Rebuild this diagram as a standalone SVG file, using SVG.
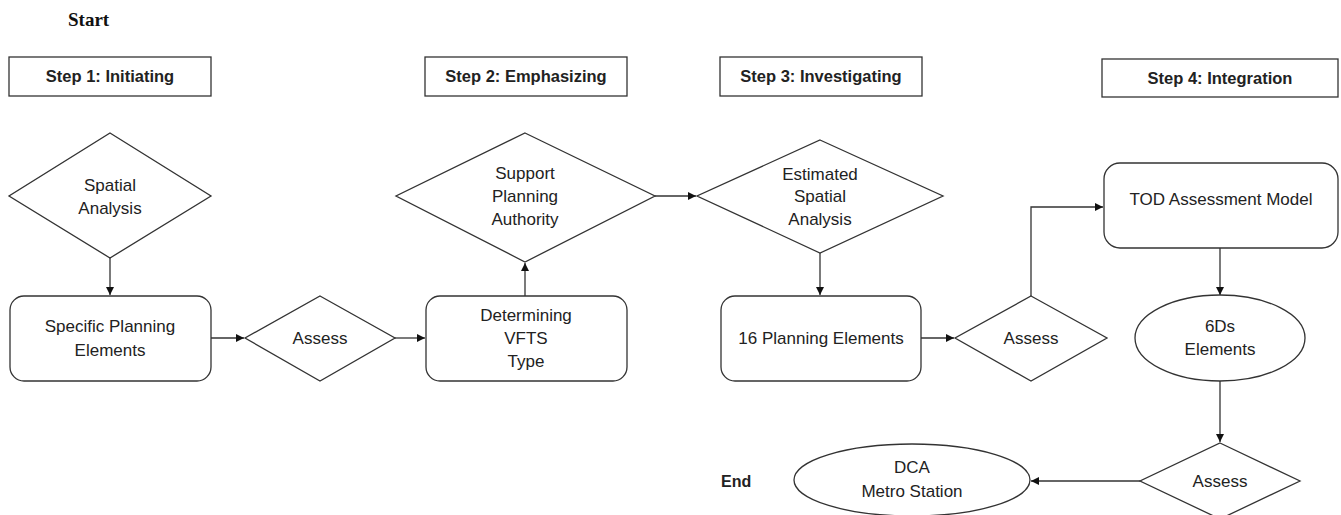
<svg xmlns="http://www.w3.org/2000/svg" width="1341" height="515" viewBox="0 0 1341 515">
<style>
.sh{fill:#fff;stroke:#333;stroke-width:1.3}
.t{font-family:"Liberation Sans",Arial,sans-serif;font-size:17px;fill:#222;text-anchor:middle}
.b{font-weight:bold;font-size:16.5px}
.c{fill:none;stroke:#333;stroke-width:1.3}
</style>
<defs>
<marker id="ah" viewBox="0 0 10 10" refX="10" refY="5" markerWidth="8" markerHeight="8" markerUnits="userSpaceOnUse" orient="auto">
<path d="M0,0 L10,5 L0,10 z" fill="#111"/>
</marker>
</defs>
<rect width="1341" height="515" fill="#fff"/>
<text x="68" y="26" style="font-family:'Liberation Serif',serif;font-weight:bold;font-size:19px;fill:#111">Start</text>
<text x="721" y="487" class="t b" style="text-anchor:start;font-size:16px">End</text>

<g id="step1"><rect class="sh" x="9" y="57" width="202" height="39"/><text class="t b" x="110" y="82">Step 1: Initiating</text></g>
<g id="step2"><rect class="sh" x="425" y="57" width="202" height="39"/><text class="t b" x="526" y="82">Step 2: Emphasizing</text></g>
<g id="step3"><rect class="sh" x="720" y="57" width="202" height="39"/><text class="t b" x="821" y="82">Step 3: Investigating</text></g>
<g id="step4"><rect class="sh" x="1102" y="59" width="236" height="38"/><text class="t b" x="1220" y="84">Step 4: Integration</text></g>

<g id="connectors">
<path class="c" d="M110,258 V295" marker-end="url(#ah)"/>
<path class="c" d="M211,338 H244" marker-end="url(#ah)"/>
<path class="c" d="M395,338 H425" marker-end="url(#ah)"/>
<path class="c" d="M525,296 V263" marker-end="url(#ah)"/>
<path class="c" d="M655,196 H696" marker-end="url(#ah)"/>
<path class="c" d="M820,253 V295" marker-end="url(#ah)"/>
<path class="c" d="M921,338 H954" marker-end="url(#ah)"/>
<path class="c" d="M1031,296 V207 H1103" marker-end="url(#ah)"/>
<path class="c" d="M1220,248 V295" marker-end="url(#ah)"/>
<path class="c" d="M1220,381 V442" marker-end="url(#ah)"/>
<path class="c" d="M1140,481 H1031" marker-end="url(#ah)"/>
</g>

<g id="spatial"><polygon class="sh" points="110,133 211,196 110,258 9,196"/><text class="t" x="110" y="191">Spatial</text><text class="t" x="110" y="214">Analysis</text></g>
<g id="specific"><rect class="sh" x="10" y="296" width="201" height="85" rx="14"/><text class="t" x="110" y="332">Specific Planning</text><text class="t" x="110" y="356">Elements</text></g>
<g id="assess1"><polygon class="sh" points="320,296 395,338 320,381 245,338"/><text class="t" x="320" y="344">Assess</text></g>
<g id="determining"><rect class="sh" x="426" y="296" width="201" height="85" rx="14"/><text class="t" x="526" y="321">Determining</text><text class="t" x="526" y="344">VFTS</text><text class="t" x="526" y="367">Type</text></g>
<g id="support"><polygon class="sh" points="525,133 655,196 525,262 396,196"/><text class="t" x="525" y="179">Support</text><text class="t" x="525" y="202">Planning</text><text class="t" x="525" y="225">Authority</text></g>
<g id="estimated"><polygon class="sh" points="820,140 943,196 820,253 697,196"/><text class="t" x="820" y="180">Estimated</text><text class="t" x="820" y="202">Spatial</text><text class="t" x="820" y="225">Analysis</text></g>
<g id="planning16"><rect class="sh" x="721" y="296" width="200" height="85" rx="14"/><text class="t" x="821" y="344">16 Planning Elements</text></g>
<g id="assess2"><polygon class="sh" points="1031,296 1107,338 1031,381 955,338"/><text class="t" x="1031" y="344">Assess</text></g>
<g id="tod"><rect class="sh" x="1104" y="163" width="234" height="85" rx="16"/><text class="t" x="1221" y="205">TOD Assessment Model</text></g>
<g id="sixds"><ellipse class="sh" cx="1220" cy="338" rx="85" ry="43"/><text class="t" x="1220" y="332">6Ds</text><text class="t" x="1220" y="355">Elements</text></g>
<g id="assess3"><polygon class="sh" points="1220,443 1300,481 1220,519 1140,481"/><text class="t" x="1220" y="487">Assess</text></g>
<g id="dca"><ellipse class="sh" cx="912" cy="480" rx="118" ry="36"/><text class="t" x="912" y="473">DCA</text><text class="t" x="912" y="497">Metro Station</text></g>
</svg>
